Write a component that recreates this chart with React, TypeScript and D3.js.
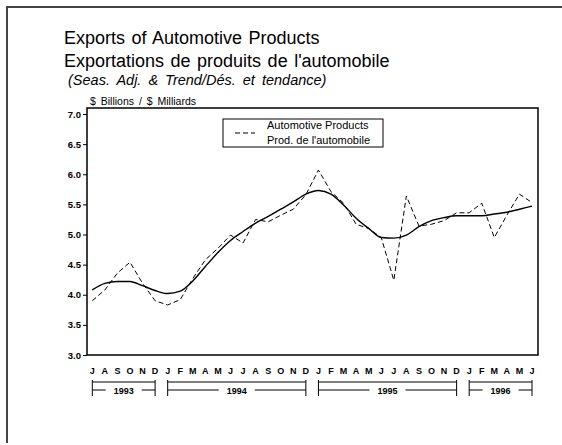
import { useRef, useEffect } from 'react';
import * as d3 from 'd3';

// Monthly values, Jul 1993 .. Jun 1996 ($ billions)
const months: string[] = [
  'J', 'A', 'S', 'O', 'N', 'D',
  'J', 'F', 'M', 'A', 'M', 'J', 'J', 'A', 'S', 'O', 'N', 'D',
  'J', 'F', 'M', 'A', 'M', 'J', 'J', 'A', 'S', 'O', 'N', 'D',
  'J', 'F', 'M', 'A', 'M', 'J',
];
const seasAdj: number[] = [
  3.90, 4.08, 4.36, 4.54, 4.19, 3.90,
  3.83, 3.92, 4.27, 4.58, 4.77, 4.99, 4.86, 5.25, 5.21, 5.32, 5.42, 5.66,
  6.07, 5.71, 5.52, 5.17, 5.10, 4.95, 4.24, 5.64, 5.14, 5.17, 5.23, 5.36,
  5.36, 5.52, 4.95, 5.32, 5.67, 5.53,
];
const trend: number[] = [
  4.08, 4.19, 4.22, 4.22, 4.15, 4.07,
  4.02, 4.06, 4.23, 4.47, 4.70, 4.90, 5.05, 5.19, 5.30, 5.42, 5.54, 5.67,
  5.73, 5.67, 5.49, 5.27, 5.10, 4.95, 4.94, 4.99, 5.13, 5.23, 5.28, 5.31,
  5.31, 5.31, 5.34, 5.37, 5.42, 5.47,
];
const years: string[] = ['1993', '1994', '1995', '1996'];
const yearStart: number[] = [0, 6, 18, 30];
const yearEnd: number[] = [5, 17, 29, 35];
const yTicks: number[] = [3.0, 3.5, 4.0, 4.5, 5.0, 5.5, 6.0, 6.5, 7.0];

export default function App() {
  const ref = useRef<SVGSVGElement | null>(null);

  useEffect(() => {
    if (!ref.current) return;
    const width = 562;
    const height = 445;
    const svg = d3.select(ref.current).attr('width', width).attr('height', height);
    svg.selectAll('*').remove();

    const font = '"Liberation Sans", Arial, sans-serif';

    // outer frame (top + left only visible)
    svg.append('path')
      .attr('d', `M7,443 L7,7 L562,7`)
      .attr('fill', 'none')
      .attr('stroke', '#444')
      .attr('stroke-width', 2);

    // titles
    svg.append('text').text('Exports of Automotive Products')
      .attr('x', 64).attr('y', 44)
      .attr('font-family', font).attr('font-size', 18).attr('word-spacing', 1.5);
    svg.append('text').text("Exportations de produits de l'automobile")
      .attr('x', 64).attr('y', 67)
      .attr('font-family', font).attr('font-size', 18).attr('word-spacing', 1.5);
    svg.append('text').text('(Seas. Adj. & Trend/Dés. et tendance)')
      .attr('x', 68).attr('y', 85)
      .attr('font-family', font).attr('font-size', 14.5).attr('font-style', 'italic').attr('word-spacing', 3);
    svg.append('text').text('$ Billions / $ Milliards')
      .attr('x', 90).attr('y', 105)
      .attr('font-family', font).attr('font-size', 10.5).attr('word-spacing', 2);

    const left = 87, right = 538, top = 108, bottom = 355;

    const x = d3.scaleLinear().domain([0, months.length - 1]).range([92.3, 532]);
    const y = d3.scaleLinear().domain([3, 7]).range([355, 114]);

    // plot frame
    svg.append('rect')
      .attr('x', left).attr('y', top)
      .attr('width', right - left).attr('height', bottom - top)
      .attr('fill', 'none').attr('stroke', '#000').attr('stroke-width', 1.5);

    // y axis ticks
    const yAxis = d3.axisLeft(y).tickValues(yTicks).tickFormat(d3.format('.1f')).tickSize(4).tickPadding(2);
    const ga = svg.append('g').attr('transform', `translate(${left},0)`).call(yAxis);
    ga.select('.domain').remove();
    ga.selectAll('text').attr('font-family', font).attr('font-size', 9.5).attr('font-weight', 'bold');

    // lines
    const lineDash = d3.line<number>().x((_, i) => x(i)).y((d) => y(d));
    const lineTrend = d3.line<number>().x((_, i) => x(i)).y((d) => y(d)).curve(d3.curveMonotoneX);

    svg.append('path').datum(seasAdj)
      .attr('d', lineDash)
      .attr('fill', 'none').attr('stroke', '#000').attr('stroke-width', 1)
      .attr('stroke-dasharray', '5,3');
    svg.append('path').datum(trend)
      .attr('d', lineTrend)
      .attr('fill', 'none').attr('stroke', '#000').attr('stroke-width', 1.4);

    // legend
    svg.append('rect')
      .attr('x', 223).attr('y', 119).attr('width', 160).attr('height', 28)
      .attr('fill', '#fff').attr('stroke', '#000').attr('stroke-width', 1);
    svg.append('line')
      .attr('x1', 235).attr('x2', 255).attr('y1', 133).attr('y2', 133)
      .attr('stroke', '#000').attr('stroke-dasharray', '5,3');
    svg.append('text').text('Automotive Products')
      .attr('x', 267).attr('y', 128.5)
      .attr('font-family', font).attr('font-size', 11);
    svg.append('text').text("Prod. de l'automobile")
      .attr('x', 267).attr('y', 143.5)
      .attr('font-family', font).attr('font-size', 11);

    // month letters
    svg.append('g').selectAll('text')
      .data(months).enter().append('text')
      .text((d) => d)
      .attr('x', (_, i) => x(i))
      .attr('y', 374)
      .attr('text-anchor', 'middle')
      .attr('font-family', font).attr('font-size', 9).attr('font-weight', 'bold');

    // year brackets
    years.forEach((yr, k) => {
      const x0 = x(yearStart[k]);
      const x1 = x(yearEnd[k]);
      const g = svg.append('g');
      g.append('line').attr('x1', x0).attr('x2', x1).attr('y1', 382).attr('y2', 382)
        .attr('stroke', '#555').attr('stroke-width', 1.5);
      [x0, x1].forEach((xx) => {
        g.append('line').attr('x1', xx).attr('x2', xx).attr('y1', 380).attr('y2', 396)
          .attr('stroke', '#000').attr('stroke-width', 1);
      });
      const mid = (x0 + x1) / 2;
      const half = 14;
      g.append('line').attr('x1', x0).attr('x2', mid - half - 4).attr('y1', 390).attr('y2', 390)
        .attr('stroke', '#000').attr('stroke-width', 1);
      g.append('line').attr('x1', mid + half + 4).attr('x2', x1).attr('y1', 390).attr('y2', 390)
        .attr('stroke', '#000').attr('stroke-width', 1);
      g.append('text').text(yr)
        .attr('x', mid).attr('y', 393.5)
        .attr('text-anchor', 'middle')
        .attr('font-family', font).attr('font-size', 9).attr('font-weight', 'bold');
    });
  }, []);

  return (
    <div>
      <svg ref={ref} style={{ position: 'absolute', left: 0, top: 0, background: '#fff' }}></svg>
    </div>
  );
}
